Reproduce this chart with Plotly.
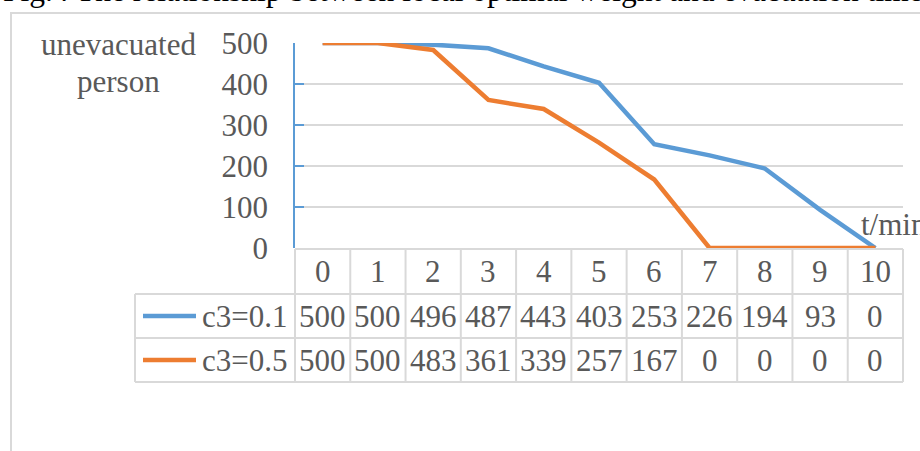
import plotly.graph_objects as go

# ---- data ----
times = [0, 1, 2, 3, 4, 5, 6, 7, 8, 9, 10]
series_names = ["c3=0.1", "c3=0.5"]
c3_01 = [500, 500, 496, 487, 443, 403, 253, 226, 194, 93, 0]
c3_05 = [500, 500, 483, 361, 339, 257, 167, 0, 0, 0, 0]
y_ticks = [0, 100, 200, 300, 400, 500]
title_text = "Fig.4 The relationship between local optimal weight and evacuation time"
y_title_lines = ["unevacuated", "person"]
x_title = "t/min"

# ---- layout geometry (pixels) ----
W, H = 920, 451
PL, PR = 295, 903          # plot area left/right
PT, PB = 43, 248           # plot area top/bottom
BLUE = "#5B9BD5"
ORANGE = "#ED7D31"
TXT = "#595959"
GRID = "#D9D9D9"
FONT = "Liberation Serif, Times New Roman, serif"
FS = 31


def px(x):
    return (x - PL) / (PR - PL)


def py(y):
    return (PB - y) / (PB - PT)


fig = go.Figure()
for name, vals, col in [(series_names[0], c3_01, BLUE), (series_names[1], c3_05, ORANGE)]:
    fig.add_trace(go.Scatter(x=times, y=vals, mode="lines", name=name,
                             line=dict(color=col, width=4.5), showlegend=False))

shapes = []
# outer chart border
shapes.append(dict(type="rect", xref="paper", yref="paper",
                   x0=px(11), x1=px(935), y0=py(13), y1=py(470),
                   line=dict(color=GRID, width=2), layer="below"))

# table geometry
rows_y = [249, 294, 338, 382]
ncol = len(times)
colw = (PR - PL) / ncol
LEG_L = 135
shapes.append(dict(type="line", xref="paper", yref="paper", x0=px(PL), x1=px(PR),
                   y0=py(rows_y[0]), y1=py(rows_y[0]), line=dict(color=GRID, width=2)))
for yy in rows_y[1:]:
    shapes.append(dict(type="line", xref="paper", yref="paper", x0=px(LEG_L), x1=px(PR),
                       y0=py(yy), y1=py(yy), line=dict(color=GRID, width=2)))
for i in range(ncol + 1):
    xx = PL + i * colw
    shapes.append(dict(type="line", xref="paper", yref="paper", x0=px(xx), x1=px(xx),
                       y0=py(rows_y[0]), y1=py(rows_y[-1]), line=dict(color=GRID, width=2)))
shapes.append(dict(type="line", xref="paper", yref="paper", x0=px(LEG_L), x1=px(LEG_L),
                   y0=py(rows_y[1]), y1=py(rows_y[-1]), line=dict(color=GRID, width=2)))

annotations = []
hy = (rows_y[0] + rows_y[1]) / 2
for t in times:
    annotations.append(dict(x=t, y=py(hy), xref="x", yref="paper", text=str(t),
                            showarrow=False, font=dict(family=FONT, size=FS, color=TXT),
                            xanchor="center", yanchor="middle"))
for r, (name, vals, col) in enumerate([(series_names[0], c3_01, BLUE), (series_names[1], c3_05, ORANGE)]):
    cy = (rows_y[r + 1] + rows_y[r + 2]) / 2
    for t, v in zip(times, vals):
        annotations.append(dict(x=t, y=py(cy), xref="x", yref="paper", text=str(v),
                                showarrow=False, font=dict(family=FONT, size=FS, color=TXT),
                                xanchor="center", yanchor="middle"))
    shapes.append(dict(type="line", xref="paper", yref="paper", x0=px(143), x1=px(196),
                       y0=py(cy), y1=py(cy), line=dict(color=col, width=4.5)))
    annotations.append(dict(x=px(290), y=py(cy), xref="paper", yref="paper", text=name,
                            showarrow=False, font=dict(family=FONT, size=FS, color=TXT),
                            xanchor="right", yanchor="middle"))

# axis titles
for line_txt, ly in zip(y_title_lines, [44, 81]):
    annotations.append(dict(x=px(118), y=py(ly), xref="paper", yref="paper", text=line_txt,
                            showarrow=False, font=dict(family=FONT, size=FS, color=TXT),
                            xanchor="center", yanchor="middle"))
annotations.append(dict(x=px(859), y=py(224), xref="paper", yref="paper", text=x_title,
                        showarrow=False, font=dict(family=FONT, size=FS, color=TXT),
                        xanchor="left", yanchor="middle"))
# figure caption (cut off at top)
annotations.append(dict(x=px(1), y=py(10), xref="paper", yref="paper", text=title_text,
                        showarrow=False, font=dict(family=FONT, size=31.5, color="#000000"),
                        xanchor="left", yanchor="bottom"))

fig.update_layout(
    width=W, height=H,
    margin=dict(l=PL, r=W - PR, t=PT, b=H - PB, pad=0),
    paper_bgcolor="white", plot_bgcolor="white",
    shapes=shapes, annotations=annotations,
    xaxis=dict(range=[-0.5, 10.5], showgrid=False, zeroline=False, showline=False,
               showticklabels=False, ticks=""),
    yaxis=dict(range=[0, 500], tickvals=y_ticks, showgrid=True, gridcolor=GRID, gridwidth=2,
               zeroline=False, showline=True, linecolor=BLUE, linewidth=1.5,
               ticks="inside", ticklen=9, tickcolor=BLUE, tickwidth=1.5,
               ticklabelstandoff=19,
               tickfont=dict(family=FONT, size=FS, color=TXT)),
)

fig.write_html("out.html")
